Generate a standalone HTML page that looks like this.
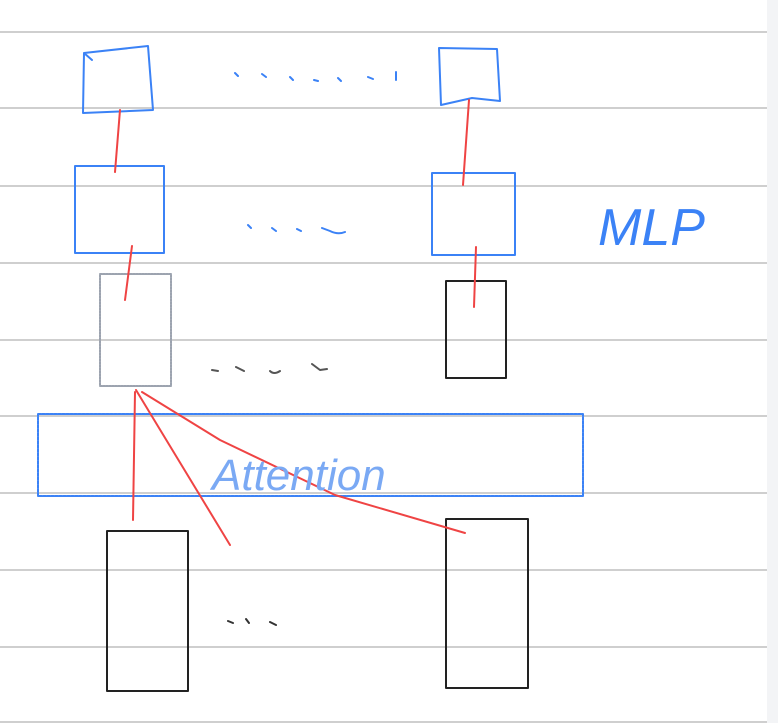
<!DOCTYPE html>
<html><head><meta charset="utf-8"><style>
html,body{margin:0;padding:0;background:#fff;}
svg{display:block;}
</style></head><body>
<svg width="778" height="723" viewBox="0 0 778 723">
<rect x="767" y="0" width="11" height="723" fill="#f3f4f6"/>
<g id="rules" stroke="#cfcfcf" stroke-width="2"></g>
<g fill="none" stroke-linecap="round" stroke-linejoin="round">
<!-- top row blue -->
<path d="M84 53 L148 46 L153 110 L83 113 Z M84 53 L92 60" stroke="#3b82f6" stroke-width="2"/>
<path d="M439 48 L497 49 L500 101 L472 98 L441 105 Z" stroke="#3b82f6" stroke-width="2"/>
<path d="M235 73 l3 3 M262 74 l4 3 M290 77 l3 3 M314 80 l4 1 M338 78 l3 3 M368 77 l5 2 M396 72 l0 8" stroke="#3b82f6" stroke-width="2"/>
<!-- MLP row -->
<rect x="75" y="166" width="89" height="87" stroke="#3b82f6" stroke-width="2"/>
<rect x="432" y="173" width="83" height="82" stroke="#3b82f6" stroke-width="2"/>
<path d="M248 225 l3 3 M272 228 l4 3 M297 229 l4 2 M322 228 l8 3 q8 4 15 1" stroke="#3b82f6" stroke-width="2"/>
<!-- hidden row -->
<rect x="100" y="274" width="71" height="112" stroke="#9ca3af" stroke-width="2" stroke-dasharray="2 1"/>
<rect x="446" y="281" width="60" height="97" stroke="#222" stroke-width="2"/>
<path d="M212 370 l6 1 M236 367 l8 4 M270 371 q4 4 10 0 M312 364 l8 6 l7 -1" stroke="#555" stroke-width="2"/>
<!-- attention -->
<rect x="38" y="414" width="545" height="82" stroke="#3b82f6" stroke-width="2" stroke-dasharray="3 1"/>
<!-- inputs -->
<rect x="107" y="531" width="81" height="160" stroke="#222" stroke-width="2"/>
<rect x="446" y="519" width="82" height="169" stroke="#222" stroke-width="2"/>
<path d="M228 621 l5 2 M246 619 l3 4 M270 622 l6 3" stroke="#333" stroke-width="2"/>
<!-- red connectors -->
<g stroke="#ef4444" stroke-width="2">
<path d="M120 110 L115 172"/><path d="M469 100 L463 185"/>
<path d="M132 246 L125 300"/><path d="M476 247 L474 307"/>
<path d="M133 520 L135 392"/>
<path d="M136 390 L230 545"/>
<path d="M142 392 L220 440 L335 495 L465 533"/>
</g>
</g>
<text x="598" y="245" font-family="Liberation Sans, sans-serif" font-size="52" font-style="italic" fill="#3b82f6">MLP</text>
<text x="212" y="490" font-family="Liberation Sans, sans-serif" font-size="44" font-style="italic" fill="#7aa9f4">Attention</text>
</svg>
<script>
const ruleYs=[32,108,186,263,340,416,493,570,647,722];
const g=document.getElementById('rules');
ruleYs.forEach(y=>{
 const l=document.createElementNS('http://www.w3.org/2000/svg','line');
 l.setAttribute('x1',0);l.setAttribute('x2',767);l.setAttribute('y1',y);l.setAttribute('y2',y);
 
 
 g.appendChild(l);
});
</script>
</body></html>
